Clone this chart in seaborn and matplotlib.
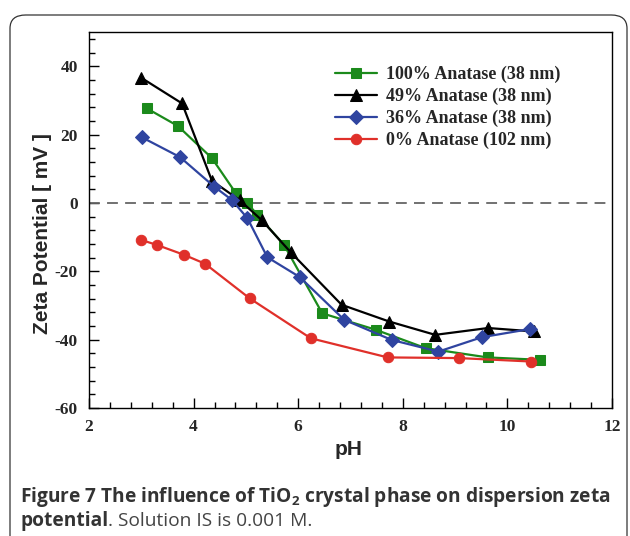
import matplotlib
matplotlib.use("Agg")
import matplotlib.pyplot as plt
import seaborn as sns
import pandas as pd
from matplotlib.patches import FancyBboxPatch
from matplotlib.ticker import MultipleLocator

# Zeta potential vs pH for four TiO2 samples
ph_100 = [3.10, 3.70, 4.35, 4.81, 5.03, 5.22, 5.73, 6.46, 7.48, 8.44, 9.62, 10.62]
zeta_100 = [27.7, 22.5, 13.1, 2.8, -0.1, -3.5, -12.3, -32.3, -37.1, -42.5, -45.2, -45.9]

ph_49 = [3.00, 3.78, 4.35, 4.88, 5.30, 5.86, 6.83, 7.74, 8.62, 9.63, 10.50]
zeta_49 = [36.6, 29.1, 6.5, 0.8, -5.0, -14.5, -29.8, -34.7, -38.6, -36.6, -37.6]

ph_36 = [3.01, 3.74, 4.39, 4.73, 5.03, 5.41, 6.03, 6.88, 7.79, 8.68, 9.51, 10.43]
zeta_36 = [19.2, 13.4, 4.8, 0.9, -4.5, -15.9, -21.7, -34.2, -40.1, -43.5, -39.3, -36.9]

ph_0 = [2.99, 3.30, 3.82, 4.22, 5.07, 6.24, 7.71, 9.08, 10.45]
zeta_0 = [-10.8, -12.3, -15.2, -17.8, -27.9, -39.6, -45.2, -45.4, -46.4]

labels = ["100% Anatase (38 nm)", "49% Anatase (38 nm)",
          "36% Anatase (38 nm)", "0% Anatase (102 nm)"]
colors = ["#1b8a1b", "#000000", "#2f44a0", "#e0302a"]
markers = ["s", "^", "D", "o"]
msizes = [7.5, 8.5, 7.5, 7.5]

sns.set_style("ticks")
plt.rcParams["font.family"] = ["Liberation Serif", "DejaVu Serif"]
plt.rcParams["font.weight"] = "bold"
plt.rcParams["axes.unicode_minus"] = False

fig = plt.figure(figsize=(6.3, 5.36), dpi=100)
ax = fig.add_axes([89 / 630, 1 - 408 / 536, (612 - 89) / 630, (408 - 32) / 536])

# rounded frame around the figure
frame = FancyBboxPatch((10 / 630, -20 / 536), 617 / 630, (536 - 15 + 20) / 536,
                       boxstyle="round,pad=0,rounding_size=0.025",
                       transform=fig.transFigure, fill=False,
                       edgecolor="#333333", linewidth=0.9, clip_on=False)
fig.patches.append(frame)

ax.axhline(0, color="#666666", lw=1.3, ls=(0, (6, 4)), zorder=1)

series = [(ph_100, zeta_100), (ph_49, zeta_49), (ph_36, zeta_36), (ph_0, zeta_0)]
for (xs, ys), lab, c, m, ms in zip(series, labels, colors, markers, msizes):
    df = pd.DataFrame({"pH": xs, "zeta": ys})
    sns.lineplot(data=df, x="pH", y="zeta", ax=ax, color=c, marker=m,
                 markersize=ms, markeredgecolor=c, linewidth=1.6,
                 sort=False, label=lab, zorder=3)

ax.set_xlim(2, 12)
ax.set_ylim(-60, 50)
ax.xaxis.set_major_locator(MultipleLocator(2))
ax.xaxis.set_minor_locator(MultipleLocator(0.4))
ax.yaxis.set_major_locator(MultipleLocator(20))
ax.yaxis.set_minor_locator(MultipleLocator(4))
ax.tick_params(which="both", direction="in", top=False, right=False,
               width=1, color="black")
ax.tick_params(which="major", length=7, labelsize=12.5)
ax.tick_params(axis="x", which="major", pad=8)
ax.tick_params(axis="y", which="major", pad=8)
ax.tick_params(which="minor", length=4)
for sp in ax.spines.values():
    sp.set_color("black")
    sp.set_linewidth(1.0)

ax.set_xlabel("pH", family=["Liberation Sans"], fontweight="bold", fontsize=15)
ax.set_ylabel("Zeta Potential [ mV ]", family=["Liberation Sans"],
              fontweight="bold", fontsize=15)
ax.xaxis.set_label_coords(0.497, -0.085)
ax.yaxis.set_label_coords(-0.071, 0.463)

leg = ax.legend(loc="upper left", bbox_to_anchor=(335 / 630, 1 - 66 / 536),
                bbox_transform=fig.transFigure, frameon=False,
                prop={"family": "Liberation Serif", "weight": "bold", "size": 13},
                handlelength=2.3, handletextpad=0.55, labelspacing=0.26,
                borderpad=0, borderaxespad=0)

# caption
plt.rcParams["mathtext.fontset"] = "custom"
plt.rcParams["mathtext.rm"] = "Open Sans:bold"
plt.rcParams["mathtext.default"] = "rm"
cap_kw = dict(family=["Open Sans"], fontsize=13.8, color="#333333",
              transform=fig.transFigure, va="baseline")
fig.text(20 / 630, 1 - 502 / 536,
         "Figure 7 The influence of TiO$_2$ crystal phase on dispersion zeta",
         fontweight="bold", **cap_kw)
t2 = fig.text(20 / 630, 1 - 526 / 536, "potential", fontweight="bold", **cap_kw)
fig.canvas.draw()
bb = t2.get_window_extent()
fig.text(bb.x1 / (fig.dpi * 6.3), 1 - 526 / 536, ". Solution IS is 0.001 M.",
         fontweight="normal", **{**cap_kw, "color": "#444444"})

fig.savefig("out.png", dpi=100)
